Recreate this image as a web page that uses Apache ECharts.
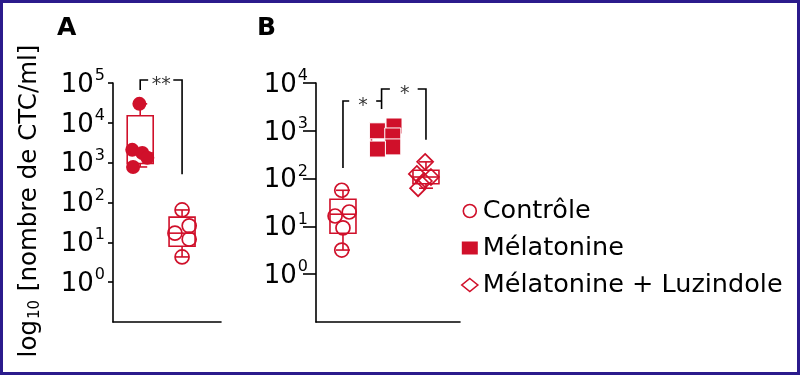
<!DOCTYPE html>
<html><head><meta charset="utf-8">
<script src="https://cdn.jsdelivr.net/npm/echarts@6/dist/echarts.min.js"></script>
<style>html,body{margin:0;padding:0;background:#fff}#c{width:800px;height:375px}</style>
</head><body><div id="c"></div>
<script>
const RED = '#d0102a';
const FONT = 'DejaVu Sans';

// ---- Panel A ----
const a1Values = [30000, 2100, 1750, 1320, 780];
const a1Jitter = [-0.02, -0.19, 0.05, 0.17, -0.17];
const a2Values = [65, 26, 17, 12, 4.3];
const a2Jitter = [0, 0.17, -0.17, 0.17, 0];
// box stats: [group, low, q1, median, q3, high]
const aBoxes = [[1, 780, 950, 1750, 15000, 30000], [2, 4.3, 8, 17, 43, 65]];
const yTicksA = [1, 10, 100, 1000, 10000, 100000];

// ---- Panel B ----
const legendNames = ['Contrôle', 'Mélatonine', 'Mélatonine + Luzindole'];
const bCtrlValues = [57, 20, 16.5, 9.3, 3.2];
const bCtrlJitter = [-0.03, 0.15, -0.19, 0, -0.03];
const bMelValues = [1260, 1000, 780, 460, 415];
const bMelJitter = [0.23, -0.17, 0.2, 0.2, -0.17];
const bLuzValues = [224, 125, 108, 89, 63];
const bLuzJitter = [-0.02, -0.22, 0.12, -0.05, -0.19];
const bBoxes = [[1, 3.2, 7.2, 18, 37, 57], [2, 415, 440, 780, 1100, 1260], [3, 63, 78, 108, 150, 224]];
const yTicksB = [1, 10, 100, 1000, 10000];

// significance brackets (data coords): polylines and star labels
const bracketsA = [
  [[1, 67000], [1, 119000], [1.19, 119000]],
  [[1.79, 119000], [2, 119000], [2, 510]]
];
const starsA = [[1.5, 119000, '**']];
const bracketsB = [
  [[1, 166], [1, 4200], [1.15, 4200]],
  [[1.8, 4200], [1.93, 4200]],
  [[1.93, 2860], [1.93, 7500], [2.13, 7500]],
  [[2.8, 7500], [3, 7500], [3, 650]]
];
const starsB = [[1.48, 4200, '*'], [2.49, 7500, '*']];

function pts(values, jitter, g) { return values.map((v, i) => [g + jitter[i], v]); }

function boxRender(params, api) {
  const g = api.value(0);
  const hw = 13, cw = 7;
  const low = api.coord([g, api.value(1)]);
  const q1 = api.coord([g, api.value(2)]);
  const med = api.coord([g, api.value(3)]);
  const q3 = api.coord([g, api.value(4)]);
  const high = api.coord([g, api.value(5)]);
  const x = q1[0];
  const st = {stroke: RED, lineWidth: 1.6, fill: null};
  return {type: 'group', children: [
    {type: 'rect', shape: {x: x - hw, y: q3[1], width: 2 * hw, height: q1[1] - q3[1]}, style: {stroke: RED, lineWidth: 1.6, fill: 'rgba(0,0,0,0)'}},
    {type: 'line', shape: {x1: x - hw, y1: med[1], x2: x + hw, y2: med[1]}, style: st},
    {type: 'line', shape: {x1: x, y1: q3[1], x2: x, y2: high[1]}, style: st},
    {type: 'line', shape: {x1: x, y1: q1[1], x2: x, y2: low[1]}, style: st},
    {type: 'line', shape: {x1: x - cw, y1: high[1], x2: x + cw, y2: high[1]}, style: st},
    {type: 'line', shape: {x1: x - cw, y1: low[1], x2: x + cw, y2: low[1]}, style: st}
  ]};
}

function yAxisCfg(max, ticks, tickLen, idx) {
  return {
    type: 'log', logBase: 10, min: 0.1, max: max, gridIndex: idx,
    axisLine: {show: true, lineStyle: {color: '#000', width: 1.6}},
    axisTick: {show: true, length: tickLen, customValues: ticks, lineStyle: {color: '#000', width: 1.6}},
    splitLine: {show: false},
    axisLabel: {
      customValues: ticks, margin: 8,
      formatter: v => '{b|10}{s|' + Math.round(Math.log10(v)) + '}',
      rich: {
        b: {fontSize: 26, fontFamily: FONT, color: '#000', padding: [4, 0, 0, 0]},
        s: {fontSize: 16, fontFamily: FONT, color: '#000', verticalAlign: 'top', padding: [0, 0, 0, 1]}
      }
    }
  };
}
function xAxisCfg(min, max, idx) {
  return {
    type: 'value', min: min, max: max, gridIndex: idx,
    axisLine: {show: true, onZero: false, lineStyle: {color: '#000', width: 1.6}},
    axisTick: {show: false}, axisLabel: {show: false}, splitLine: {show: false}
  };
}
function bracketSeries(lines, stars, idx) {
  return [{
    type: 'lines', coordinateSystem: 'cartesian2d', xAxisIndex: idx, yAxisIndex: idx,
    polyline: true, clip: false, silent: true,
    lineStyle: {color: '#000', width: 1.6, opacity: 1},
    data: lines.map(c => ({coords: c}))
  }, {
    type: 'scatter', xAxisIndex: idx, yAxisIndex: idx, clip: false, silent: true,
    symbolSize: 0,
    label: {show: true, position: 'inside', formatter: p => p.data[2], fontSize: 19, fontFamily: FONT, color: '#000', offset: [0, 5]},
    data: stars
  }];
}

const openCircle = {color: 'rgba(0,0,0,0)', borderColor: RED, borderWidth: 1.7, opacity: 1};

const option = {
  animation: false,
  backgroundColor: '#fff',
  grid: [
    {left: 113, top: 83, width: 108, height: 239},
    {left: 316, top: 83, width: 144, height: 239}
  ],
  xAxis: [xAxisCfg(0.35, 2.93, 0), xAxisCfg(0.35, 3.82, 1)],
  yAxis: [yAxisCfg(100000, yTicksA, 5, 0), yAxisCfg(10000, yTicksB, 13, 1)],
  legend: {
    orient: 'vertical', left: 461, top: 198, padding: 0, itemGap: 11,
    itemWidth: 16, itemHeight: 13,
    textStyle: {fontSize: 25.5, fontFamily: FONT, color: '#000'},
    data: [
      {name: legendNames[0], icon: 'circle', itemStyle: {color: '#fff', borderColor: RED, borderWidth: 1.6, opacity: 1}},
      {name: legendNames[1], icon: 'rect', itemStyle: {color: RED, borderWidth: 0, opacity: 1}},
      {name: legendNames[2], icon: 'diamond', itemStyle: {color: '#fff', borderColor: RED, borderWidth: 1.6, opacity: 1}}
    ]
  },
  graphic: [
    {type: 'rect', shape: {x: 1.5, y: 1.5, width: 797, height: 372}, style: {fill: null, stroke: '#2b1b8c', lineWidth: 3}},
    {type: 'text', x: 57, y: 16, style: {text: 'A', fontSize: 25, fontWeight: 'bold', fontFamily: FONT, fill: '#000'}},
    {type: 'text', x: 257, y: 16, style: {text: 'B', fontSize: 25, fontWeight: 'bold', fontFamily: FONT, fill: '#000'}},
    {type: 'text', x: 30, y: 201, rotation: Math.PI / 2,
      style: {text: '{a|log}{s|10}{a| [nombre de CTC/ml]}', align: 'center', verticalAlign: 'middle',
        rich: {a: {fontSize: 24.5, fontFamily: FONT, color: '#000'},
               s: {fontSize: 15, fontFamily: FONT, color: '#000', verticalAlign: 'bottom', padding: [6, 1, 0, 1]}}}}
  ],
  series: [
    {type: 'custom', name: 'boxA', xAxisIndex: 0, yAxisIndex: 0, renderItem: boxRender, data: aBoxes, z: 2, clip: false},
    {type: 'scatter', name: 'A1', xAxisIndex: 0, yAxisIndex: 0, symbol: 'circle', symbolSize: 14,
      itemStyle: {color: RED, opacity: 1}, data: pts(a1Values, a1Jitter, 1), z: 3},
    {type: 'scatter', name: 'A2', xAxisIndex: 0, yAxisIndex: 0, symbol: 'circle', symbolSize: 14,
      itemStyle: openCircle, data: pts(a2Values, a2Jitter, 2), z: 3},
    {type: 'custom', name: 'boxB', xAxisIndex: 1, yAxisIndex: 1, renderItem: boxRender, data: bBoxes, z: 2, clip: false},
    {type: 'scatter', name: legendNames[0], xAxisIndex: 1, yAxisIndex: 1, symbol: 'circle', symbolSize: 14,
      itemStyle: openCircle, data: pts(bCtrlValues, bCtrlJitter, 1), z: 3},
    {type: 'scatter', name: legendNames[1], xAxisIndex: 1, yAxisIndex: 1, symbol: 'rect', symbolSize: 16,
      itemStyle: {color: RED, borderColor: '#fff', borderWidth: 1, opacity: 1}, data: pts(bMelValues, bMelJitter, 2), z: 3},
    {type: 'scatter', name: legendNames[2], xAxisIndex: 1, yAxisIndex: 1, symbol: 'diamond', symbolSize: 16,
      itemStyle: openCircle, data: pts(bLuzValues, bLuzJitter, 3), z: 3}
  ].concat(bracketSeries(bracketsA, starsA, 0), bracketSeries(bracketsB, starsB, 1))
};

const chart = echarts.init(document.getElementById('c'), null, {renderer: 'canvas'});
chart.setOption(option);
</script></body></html>
